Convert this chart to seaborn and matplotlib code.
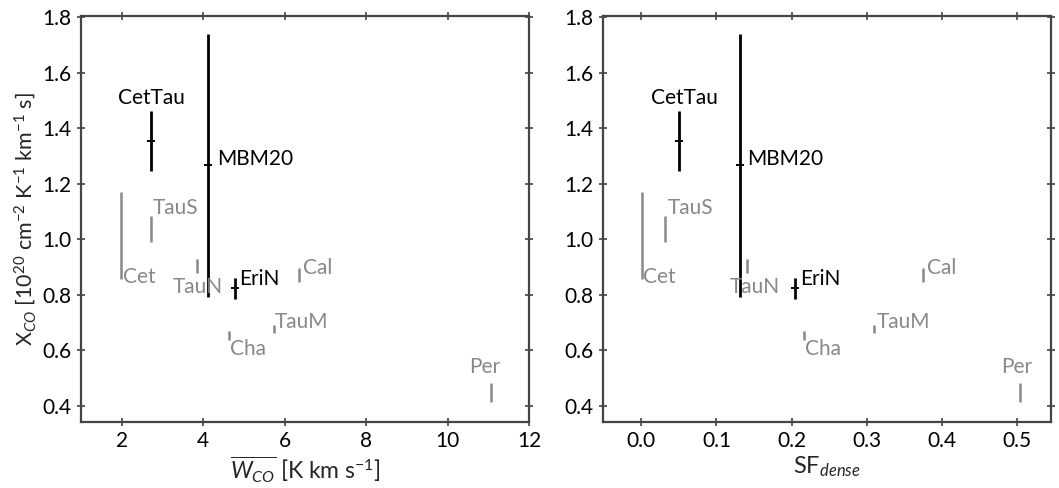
import matplotlib
matplotlib.use("Agg")
import matplotlib.pyplot as plt
import seaborn as sns
import pandas as pd

# clouds: first three drawn in black, the rest in grey
names = ["CetTau", "MBM20", "EriN", "Cet", "TauS", "TauN", "Cal", "TauM", "Cha", "Per"]
wco = [2.73, 4.11, 4.77, 1.98, 2.73, 3.86, 6.36, 5.74, 4.63, 11.07]
sf_dense = [0.050, 0.131, 0.205, 0.001, 0.032, 0.141, 0.375, 0.310, 0.216, 0.504]
xco = [1.354, 1.266, 0.823, 1.015, 1.038, 0.903, 0.870, 0.676, 0.654, 0.448]
xco_err = [0.108, 0.475, 0.038, 0.157, 0.046, 0.025, 0.025, 0.015, 0.017, 0.035]
highlight = ["CetTau", "MBM20", "EriN"]

yticks = [0.4, 0.6, 0.8, 1.0, 1.2, 1.4, 1.6, 1.8]
xticks_w = [2, 4, 6, 8, 10, 12]
xticks_sf = [0.0, 0.1, 0.2, 0.3, 0.4, 0.5]

# label offsets in pixels (dx, dy, ha) for each panel
offs_w = {"CetTau": (0, 37, "center"), "MBM20": (9, 0, "left"), "EriN": (5, 3, "left"),
          "Cet": (2, -48, "left"), "TauS": (1, 15, "left"), "TauN": (0, -27, "center"),
          "Cal": (4, 1, "left"), "TauM": (1, 1, "left"), "Cha": (1, -20, "left"),
          "Per": (-6, 19, "center")}
offs_sf = {"CetTau": (6, 37, "center"), "MBM20": (7, 0, "left"), "EriN": (5, 3, "left"),
           "Cet": (1, -48, "left"), "TauS": (2, 15, "left"), "TauN": (8, -27, "center"),
           "Cal": (4, 1, "left"), "TauM": (2, 1, "left"), "Cha": (1, -20, "left"),
           "Per": (-3, 19, "center")}

sns.set_theme(style="ticks")
plt.rcParams["font.family"] = ["Lato", "DejaVu Sans"]
plt.rcParams["mathtext.fontset"] = "custom"
plt.rcParams["mathtext.rm"] = "Lato"
plt.rcParams["mathtext.it"] = "Lato:italic"
plt.rcParams["mathtext.bf"] = "Lato:bold"

df = pd.DataFrame({"name": names, "wco": wco, "sf": sf_dense, "xco": xco, "err": xco_err})
df["black"] = df["name"].isin(highlight)

GREY = "#888888"
SPINE = "#444444"

fig, axes = plt.subplots(1, 2, figsize=(10.59, 4.88), dpi=100)
fig.subplots_adjust(left=0.0765, right=0.9924, bottom=0.136, top=0.968, wspace=0.165)

def panel(ax, xcol, offs):
	blk = df[df["black"]]
	gry = df[~df["black"]]
	ax.errorbar(gry[xcol], gry["xco"], yerr=gry["err"], fmt="none", ecolor=GREY, elinewidth=1.8, capsize=0)
	ax.errorbar(blk[xcol], blk["xco"], yerr=blk["err"], fmt="none", ecolor="black", elinewidth=2.0, capsize=0)
	sns.scatterplot(data=blk, x=xcol, y="xco", marker="_", s=40, color="black", linewidth=1.4, ax=ax, zorder=3)
	for _, r in df.iterrows():
		dx, dy, ha = offs[r["name"]]
		ax.annotate(r["name"], (r[xcol], r["xco"]), xytext=(dx, dy), textcoords="offset pixels",
			ha=ha, va="baseline", fontsize=15, color="black" if r["black"] else GREY)
	ax.set_yticks(yticks)
	ax.set_ylim(0.343, 1.806)
	ax.tick_params(axis="both", which="major", direction="inout", length=6, width=1.2,
		color=SPINE, labelsize=15, labelcolor="black", top=True, right=True, pad=4)
	for s in ax.spines.values():
		s.set_color(SPINE)
		s.set_linewidth(1.6)
	ax.set_ylabel("")

ax1, ax2 = axes
panel(ax1, "wco", offs_w)
ax1.set_xticks(xticks_w)
ax1.set_xlim(1, 12)
ax1.set_xlabel(r"$\overline{W_{CO}}$ [K km s$^{-1}$]", fontsize=16.5, labelpad=2)
ax1.set_ylabel(r"X$_{CO}$ [10$^{20}$ cm$^{-2}$ K$^{-1}$ km$^{-1}$ s]", fontsize=15.5, labelpad=3)

panel(ax2, "sf", offs_sf)
ax2.set_xticks(xticks_sf)
ax2.set_xticklabels(["0.0", "0.1", "0.2", "0.3", "0.4", "0.5"])
ax2.set_xlim(-0.051, 0.545)
ax2.set_xlabel(r"SF$_{dense}$", fontsize=17, labelpad=2)

fig.savefig("out.png", dpi=100)
